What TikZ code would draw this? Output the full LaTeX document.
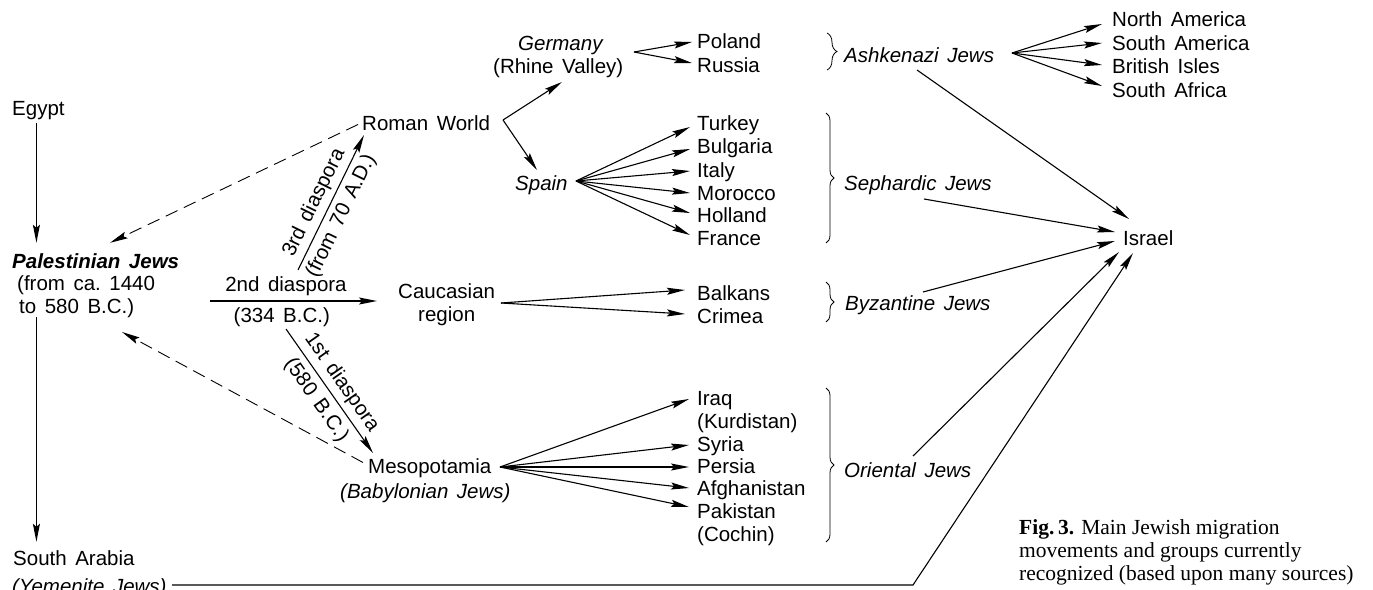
\documentclass[tikz,border=0pt]{standalone}
\usepackage{fontspec}
\setmainfont{Liberation Sans}[WordSpace=1.5]
\newfontfamily\capfont{Liberation Serif}
\usetikzlibrary{arrows.meta,decorations.pathreplacing}
\newcommand\dfont{\fontsize{20.5pt}{23pt}\selectfont}
\begin{document}
\begin{tikzpicture}[x=1pt,y=-1pt,
  t/.style={anchor=base west, inner sep=0pt, text height=15pt, text depth=4pt, font=\dfont},
  ti/.style={t, font=\dfont\itshape},
  lab/.style={inner sep=0pt, text height=15pt, text depth=4pt, font=\dfont},
  arr/.style={line width=1.1pt, -{Stealth[length=18pt,width=7pt,inset=3pt]}},
  dashedarr/.style={line width=0.9pt, dash pattern=on 13pt off 7pt, -{Stealth[length=18pt,width=7pt,inset=3pt]}},
  grp/.style={line width=0.8pt, decorate, decoration={brace, amplitude=8pt}},
  captext/.style={anchor=base west, inner sep=0pt, font=\capfont\fontsize{21.5pt}{23pt}\selectfont}]
\useasboundingbox (0,0) rectangle (1373,589);
\fill[white] (0,0) rectangle (1373,589);

% ---------- left column
\node[t] (egypt) at (12,115) {Egypt};
\node[t, font=\dfont\bfseries\itshape] (pal) at (12,268) {Palestinian Jews};
\node[t] (pal2) at (17,290) {(from ca.\ 1440};
\node[t] (pal3) at (19,313) {to 580 B.C.)};
\node[t] (sarab) at (13,565) {South Arabia};
\node[ti] (yem) at (12,593) {(Yemenite Jews)};

% ---------- middle column
\node[t] (rome) at (362,130) {Roman World};
\node[t] (cauc) at (398,298) {Caucasian};
\node[t] (region) at (418,321) {region};
\node[t] (meso) at (368,473) {Mesopotamia};
\node[ti] (baby) at (340,498) {(Babylonian Jews)};
\node[ti] (germ) at (518,50) {Germany};
\node[t] (rhine) at (493,73) {(Rhine Valley)};
\node[ti] (spain) at (515,190) {Spain};

% ---------- countries
\node[t] (poland) at (697,48) {Poland};
\node[t] (russia) at (697,72) {Russia};
\node[t] (turkey) at (697,130) {Turkey};
\node[t] (bulg) at (697,153) {Bulgaria};
\node[t] (italy) at (697,177) {Italy};
\node[t] (morocco) at (697,200) {Morocco};
\node[t] (holland) at (697,222) {Holland};
\node[t] (france) at (697,245) {France};
\node[t] (balk) at (697,300) {Balkans};
\node[t] (crim) at (697,323) {Crimea};
\node[t] (iraq) at (697,405) {Iraq};
\node[t] (kurd) at (697,428) {(Kurdistan)};
\node[t] (syria) at (697,451) {Syria};
\node[t] (persia) at (697,473) {Persia};
\node[t] (afgh) at (697,495) {Afghanistan};
\node[t] (pak) at (697,518) {Pakistan};
\node[t] (cochin) at (697,541) {(Cochin)};

% ---------- groups
\node[ti] (ashk) at (844,62) {Ashkenazi Jews};
\node[ti] (seph) at (844,190) {Sephardic Jews};
\node[ti] (byz) at (845,310) {Byzantine Jews};
\node[ti] (orient) at (844,477) {Oriental Jews};

% ---------- right
\node[t] (na) at (1112,27) {North America};
\node[t] (sam) at (1112,50) {South America};
\node[t] (bi) at (1112,73) {British Isles};
\node[t] (saf) at (1112,97) {South Africa};
\node[t] (israel) at (1123,245) {Israel};

% ---------- caption
\node[captext] (cap1) at (1019,534) {\textbf{Fig.\,3.} Main Jewish migration};
\node[captext] (cap2) at (1019,557) {movements and groups currently};
\node[captext] (cap3) at (1019,580) {recognized (based upon many sources)};

% ---------- braces
\draw[grp, decoration={amplitude=10pt}] (827,33) -- (827,70);
\draw[grp] (826,113) -- (826,243);
\draw[grp] (826,282) -- (826,322);
\draw[grp] (826,388) -- (826,542);

% ---------- left arrows
\draw[arr] ([shift={(-2pt,-4pt)}]egypt.south) -- ([shift={(-2pt,10pt)}]egypt.south |- pal.north);
\draw[arr] ([xshift=-2pt]egypt.south |- pal3.south) -- ([shift={(-2pt,8pt)}]egypt.south |- sarab.north);
\draw[dashedarr] ([xshift=-4pt]rome.west) -- ([shift={(98pt,10pt)}]pal.north west);
\draw[dashedarr] ([shift={(-5pt,5pt)}]meso.west) -- ([shift={(103pt,-19pt)}]pal3.base west);

% ---------- diasporas
\coordinate (d3s) at (298,270);
\coordinate (d2s) at (210,301);
\coordinate (d1s) at (286,329);
\draw[arr] (d3s) -- ([shift={(2pt,-5pt)}]rome.base west)
  node[lab, pos=0.45, sloped, above=5pt] (l3a) {3rd diaspora}
  node[lab, pos=0.45, sloped, below=5pt] (l3b) {(from 70 A.D.)};
\draw[arr] (d2s) -- ([shift={(-21pt,-8.5pt)}]cauc.west)
  node[lab, pos=0.455, above=5pt] (l2a) {2nd diaspora}
  node[lab, pos=0.43, below=6pt] (l2b) {(334 B.C.)};
\draw[arr] (d1s) -- ([shift={(5pt,20pt)}]meso.base west)
  node[lab, pos=0.5, sloped, above=5pt] (l1a) {1st diaspora}
  node[lab, pos=0.5, sloped, below=6pt] (l1b) {(580 B.C.)};

% ---------- Roman world branches
\coordinate (romeO) at ([shift={(141pt,10pt)}]rome.base west);
\draw[arr] (romeO) -- ([shift={(69pt,-9pt)}]rhine.base west);
\draw[arr] (romeO) -- ([shift={(22pt,20pt)}]spain.base west);

\coordinate (germO) at ([shift={(116pt,-2pt)}]germ.base west);
\draw[arr] (germO) -- ([shift={(-5pt,6pt)}]poland.base west);
\draw[arr] (germO) -- ([shift={(-5pt,9pt)}]russia.base west);

\coordinate (spainO) at ([shift={(61pt,9pt)}]spain.base west);
\draw[arr] (spainO) -- ([shift={(-7pt,3pt)}]turkey.base west);
\draw[arr] (spainO) -- ([shift={(-7pt,4pt)}]bulg.base west);
\draw[arr] (spainO) -- ([shift={(-7pt,6pt)}]italy.base west);
\draw[arr] (spainO) -- ([shift={(-7pt,7pt)}]morocco.base west);
\draw[arr] (spainO) -- ([shift={(-7pt,9pt)}]holland.base west);
\draw[arr] (spainO) -- ([shift={(-7pt,10pt)}]france.base west);

\coordinate (caucO) at ([shift={(103pt,-5pt)}]cauc.base west);
\draw[arr] (caucO) -- ([shift={(-12pt,10pt)}]balk.base west);
\draw[arr] (caucO) -- ([shift={(-12pt,9pt)}]crim.base west);

\coordinate (mesoO) at ([shift={(132pt,6pt)}]meso.base west);
\draw[arr] (mesoO) -- ([shift={(-8pt,6pt)}]iraq.base west);
\draw[arr] (mesoO) -- ([shift={(-8pt,6pt)}]syria.base west);
\draw[arr] (mesoO) -- ([shift={(-8pt,6pt)}]persia.base west);
\draw[arr] (mesoO) -- ([shift={(-8pt,7pt)}]afgh.base west);
\draw[arr] (mesoO) -- ([shift={(-8pt,11pt)}]pak.base west);

\coordinate (ashkO) at ([shift={(168pt,9pt)}]ashk.base west);
\draw[arr] (ashkO) -- ([shift={(-10pt,3pt)}]na.base west);
\draw[arr] (ashkO) -- ([shift={(-10pt,7pt)}]sam.base west);
\draw[arr] (ashkO) -- ([shift={(-10pt,8pt)}]bi.base west);
\draw[arr] (ashkO) -- ([shift={(-10pt,11pt)}]saf.base west);

% ---------- to Israel
\draw[arr] ([shift={(73pt,-8pt)}]ashk.base west) -- ([shift={(6pt,26pt)}]israel.base west);
\draw[arr] ([shift={(80pt,-9pt)}]seph.base west) -- ([shift={(-8pt,13pt)}]israel.base west);
\draw[arr] ([shift={(78pt,18pt)}]byz.base west) -- ([shift={(-8pt,4pt)}]israel.base west);
\draw[arr] ([shift={(69pt,21pt)}]orient.base west) -- ([shift={(-4pt,-7pt)}]israel.base west);
\coordinate (ycorner) at (913,585);
\draw[arr] ([shift={(160pt,8pt)}]yem.base west) -- (ycorner) -- ([shift={(10pt,-8pt)}]israel.base west);
\end{tikzpicture}
\end{document}
